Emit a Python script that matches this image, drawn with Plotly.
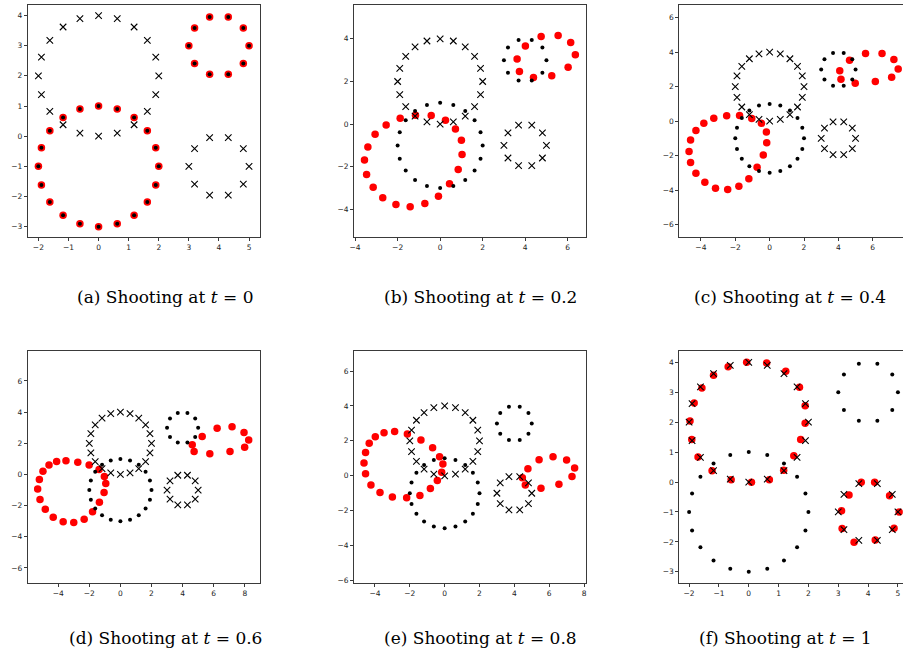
import plotly.graph_objects as go

W, H = 904, 653

# ---- source points (black dots) ----
BLACK_X = [2.0, 1.90, 1.62, 1.18, 0.62, 0.0, -0.62, -1.18, -1.62, -1.90,
           -2.0, -1.90, -1.62, -1.18, -0.62, 0.0, 0.62, 1.18, 1.62, 1.90,
           5.0, 4.81, 4.31, 3.69, 3.19, 3.0, 3.19, 3.69, 4.31, 4.81]
BLACK_Y = [-1.0, -0.38, 0.18, 0.62, 0.90, 1.0, 0.90, 0.62, 0.18, -0.38,
           -1.0, -1.62, -2.18, -2.62, -2.90, -3.0, -2.90, -2.62, -2.18, -1.62,
           3.0, 3.59, 3.95, 3.95, 3.59, 3.0, 2.41, 2.05, 2.05, 2.41]

# ---- target points (crosses) ----
CROSS_X = [2.0, 1.90, 1.62, 1.18, 0.62, 0.0, -0.62, -1.18, -1.62, -1.90,
           -2.0, -1.90, -1.62, -1.18, -0.62, 0.0, 0.62, 1.18, 1.62, 1.90,
           5.0, 4.81, 4.31, 3.69, 3.19, 3.0, 3.19, 3.69, 4.31, 4.81]
CROSS_Y = [2.0, 2.62, 3.18, 3.62, 3.90, 4.0, 3.90, 3.62, 3.18, 2.62,
           2.0, 1.38, 0.82, 0.38, 0.10, 0.0, 0.10, 0.38, 0.82, 1.38,
           -1.0, -0.41, -0.05, -0.05, -0.41, -1.0, -1.59, -1.95, -1.95, -1.59]

# ---- shot points (red) for each time ----
RED_A_X = BLACK_X
RED_A_Y = BLACK_Y

RED_B_X = [-3.56, -3.46, -3.40, -3.15, -3.06, -2.70, -2.54, -2.08, -1.88, -1.41,
           -1.16, -0.72, -0.42, -0.08, 0.25, 0.44, 0.72, 0.85, 1.00, 1.03,
           3.62, 3.73, 4.01, 4.39, 4.75, 5.25, 5.55, 6.02, 6.14, 6.36]
RED_B_Y = [-1.68, -2.36, -1.07, -2.96, -0.48, -3.45, -0.04, -3.77, 0.27, -3.88,
           0.41, -3.73, 0.40, -3.38, 0.18, -2.80, -0.23, -2.13, -0.76, -1.43,
           3.05, 2.47, 3.67, 2.19, 4.11, 2.27, 4.16, 2.67, 3.83, 3.25]

RED_C_X = [-4.69, -4.60, -4.60, -4.29, -4.29, -3.83, -3.77, -3.25, -3.15, -2.50,
           -2.44, -1.79, -1.75, -1.21, -1.04, -0.73, -0.48, -0.37, -0.19, -0.17,
           4.08, 4.15, 4.65, 4.98, 5.58, 6.15, 6.54, 7.10, 7.23, 7.48]
RED_C_Y = [-1.76, -2.40, -1.09, -3.03, -0.54, -0.13, -3.55, 0.17, -3.89, 0.31,
           -3.97, -3.78, 0.33, -3.34, 0.15, -2.68, -0.13, -1.96, -0.63, -1.25,
           2.93, 2.43, 3.53, 2.20, 3.93, 2.30, 3.93, 2.55, 3.58, 3.03]

RED_D_X = [-5.32, -5.21, -5.17, -4.98, -4.83, -4.59, -4.32, -4.10, -3.68, -3.50,
           -3.00, -2.74, -2.33, -2.01, -1.79, -1.37, -1.35, -1.05, -1.03, -0.94,
           4.62, 4.74, 5.26, 5.75, 6.22, 7.05, 7.18, 7.95, 7.99, 8.25]
RED_D_Y = [-0.94, -0.32, -1.61, 0.21, -2.23, 0.60, -2.74, 0.84, -3.04, 0.88,
           -3.09, 0.79, -2.87, 0.60, -2.40, 0.32, -1.78, -1.16, -0.13, -0.58,
           1.91, 1.48, 2.44, 1.33, 2.96, 1.48, 3.06, 2.70, 1.74, 2.21]

RED_E_X = [-4.63, -4.54, -4.54, -4.33, -4.23, -3.98, -3.71, -3.48, -3.00, -2.87,
           -2.18, -2.14, -1.42, -1.36, -0.82, -0.69, -0.42, -0.29, -0.17, -0.10,
           4.46, 4.63, 4.78, 5.53, 5.42, 6.22, 6.56, 7.00, 7.31, 7.46]
RED_E_Y = [0.73, 1.34, 0.11, 1.86, -0.52, 2.24, -0.96, 2.47, -1.21, 2.53,
           -1.26, 2.39, -1.13, 2.05, -0.73, 1.61, -0.27, 1.09, 0.21, 0.67,
           -0.11, -0.52, 0.40, -0.71, 0.92, 1.09, -0.48, 0.90, -0.04, 0.44]

RED_F_X = [-0.07, 0.60, 1.24, 1.70, 1.89, 1.89, 1.74, 1.51, 1.17, 0.69,
           0.09, -0.59, -1.23, -1.70, -1.91, -1.97, -1.83, -1.57, -1.18, -0.69,
           3.77, 4.22, 4.72, 5.04, 4.87, 4.24, 3.53, 3.13, 3.11, 3.36]
RED_F_Y = [4.00, 3.98, 3.70, 3.17, 2.55, 1.96, 1.42, 0.88, 0.39, 0.08,
           -0.01, 0.08, 0.38, 0.84, 1.42, 2.04, 2.64, 3.14, 3.57, 3.85,
           -0.01, -0.01, -0.46, -1.00, -1.54, -1.94, -2.01, -1.55, -0.96, -0.43]

CAPTIONS = ["(a) Shooting at <i>t</i> = 0", "(b) Shooting at <i>t</i> = 0.2",
            "(c) Shooting at <i>t</i> = 0.4", "(d) Shooting at <i>t</i> = 0.6",
            "(e) Shooting at <i>t</i> = 0.8", "(f) Shooting at <i>t</i> = 1"]

REDS = [(RED_A_X, RED_A_Y), (RED_B_X, RED_B_Y), (RED_C_X, RED_C_Y),
        (RED_D_X, RED_D_Y), (RED_E_X, RED_E_Y), (RED_F_X, RED_F_Y)]

# layout: box pixels (left, right, top, bottom), axis ranges, tick step, right edge cropped
PANELS = [
    dict(box=(24, 257, 5, 238), xr=(-2.35, 5.35), yr=(-3.35, 4.35), dt=1, crop=False),
    dict(box=(352, 585, 5, 238), xr=(-4.05, 6.85), yr=(-5.31, 5.59), dt=2, crop=False),
    dict(box=(679, 904, 5, 238), xr=(-5.26, 7.76), yr=(-6.74, 6.74), dt=2, crop=True),
    dict(box=(24, 257, 352, 585), xr=(-5.95, 8.95), yr=(-6.98, 7.93), dt=2, crop=False),
    dict(box=(352, 585, 352, 585), xr=(-5.2, 8.1), yr=(-6.15, 7.15), dt=2, crop=False),
    dict(box=(679, 904, 352, 585), xr=(-2.33, 5.17), yr=(-3.38, 4.38), dt=1, crop=True),
]
CAP_POS = [(162, 298), (479, 298), (790, 298), (162, 640), (479, 640), (786, 640)]

fig = go.Figure()
layout = dict(width=W, height=H, margin=dict(l=0, r=0, t=0, b=0),
              paper_bgcolor="white", plot_bgcolor="white", showlegend=False)

annotations = []
for i, p in enumerate(PANELS):
    n = "" if i == 0 else str(i + 1)
    xa, ya = "x" + n, "y" + n
    rx, ry = REDS[i]
    fig.add_trace(go.Scatter(x=rx, y=ry, mode="markers", xaxis=xa, yaxis=ya,
                             marker=dict(color="#ff0000", size=7.5)))
    fig.add_trace(go.Scatter(x=BLACK_X, y=BLACK_Y, mode="markers", xaxis=xa, yaxis=ya,
                             marker=dict(color="black", size=4)))
    fig.add_trace(go.Scatter(x=CROSS_X, y=CROSS_Y, mode="markers", xaxis=xa, yaxis=ya,
                             marker=dict(symbol="x-thin", size=6.5,
                                         line=dict(color="black", width=1.1))))
    l, r, t, b = p["box"]
    common = dict(showline=True, linecolor="#3a3a3a", linewidth=1, showgrid=False,
                  zeroline=False, ticks="outside", ticklen=3, tickwidth=1, tickcolor="#3a3a3a",
                  tickfont=dict(family="DejaVu Sans", size=7.5, color="#222"),
                  dtick=p["dt"], tick0=0)
    layout["xaxis" + n] = dict(common, domain=[l / W, r / W], range=list(p["xr"]),
                               anchor=ya, mirror=True)
    layout["yaxis" + n] = dict(common, domain=[1 - b / H, 1 - t / H], range=list(p["yr"]),
                               anchor=xa, mirror=not p["crop"])
    cx, cy = CAP_POS[i]
    annotations.append(dict(text=CAPTIONS[i], x=cx / W, y=1 - cy / H, xref="paper", yref="paper",
                            showarrow=False, xanchor="center", yanchor="middle",
                            font=dict(family="DejaVu Serif", size=17, color="black")))

layout["annotations"] = annotations
fig.update_layout(**layout)
fig.write_html("out.html", config={"displayModeBar": False},
               post_script="document.body.style.margin='0';document.body.style.overflow='hidden';")
